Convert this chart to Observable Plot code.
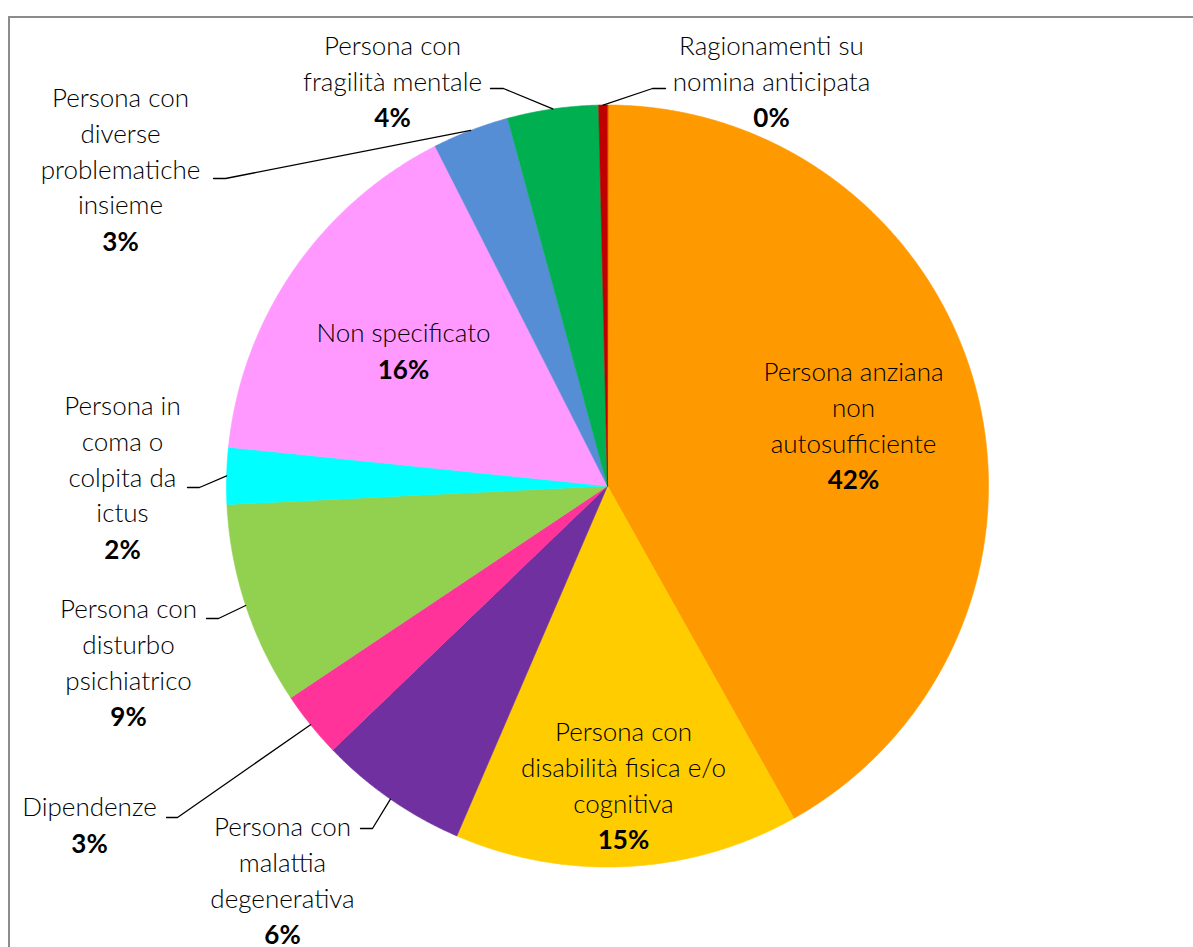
<!DOCTYPE html>
<html><head><meta charset="utf-8">
<script src="https://cdn.jsdelivr.net/npm/d3@7"></script>
<script src="https://cdn.jsdelivr.net/npm/@observablehq/plot@0.6"></script>
<style>
html,body{margin:0;padding:0;background:#fff;overflow:hidden;width:1193px;height:947px}
#frame{position:absolute;left:8px;top:16px;width:1400px;height:1200px;border:2px solid #8c8c8c;box-sizing:border-box}
#chart{position:absolute;left:0;top:0}
</style></head><body><div id="frame"></div><div id="chart"></div>
<script>
// ---- data ----
const categories = [
  "Persona anziana non autosufficiente",
  "Persona con disabilità fisica e/o cognitiva",
  "Persona con malattia degenerativa",
  "Dipendenze",
  "Persona con disturbo psichiatrico",
  "Persona in coma o colpita da ictus",
  "Non specificato",
  "Persona con diverse problematiche insieme",
  "Persona con fragilità mentale",
  "Ragionamenti su nomina anticipata"
];
const values = [41.86, 14.6, 6.35, 2.8, 8.6, 2.4, 15.9, 3.25, 3.85, 0.37];
const labelLines = [
  ["Persona anziana", "non", "autosufficiente"],
  ["Persona con", "disabilità fisica e/o", "cognitiva"],
  ["Persona con", "malattia", "degenerativa"],
  ["Dipendenze"],
  ["Persona con", "disturbo", "psichiatrico"],
  ["Persona in", "coma o", "colpita da", "ictus"],
  ["Non specificato"],
  ["Persona con", "diverse", "problematiche", "insieme"],
  ["Persona con", "fragilità mentale"],
  ["Ragionamenti su", "nomina anticipata"]
];
const colors = ["#FF9900", "#FFCC00", "#7030A0", "#FF3399", "#92D050", "#00FFFF", "#FF99FF", "#558ED5", "#00B050", "#C00000"];

// ---- layout (pixels) ----
const W = 1193, H = 947, CX = 607, CY = 485.5, R = 381, LINE = 35.8, FS = 26, NAME_SHIFT = -4;
// first-line centre of each label, optional leader elbow and stub length
const labelLayout = [
  {x: 853, y: 373},
  {x: 623, y: 733},
  {x: 282, y: 828, elbow: [372, 828], stub: -12},
  {x: 89,  y: 808, elbow: [177, 817], stub: -11},
  {x: 128, y: 610, elbow: [218, 618], stub: -12},
  {x: 122, y: 407, elbow: [199, 487], stub: -12},
  {x: 403, y: 334},
  {x: 120, y: 99,  elbow: [225, 178], stub: -12},
  {x: 392, y: 47,  elbow: [503, 88],  stub: -13},
  {x: 771, y: 47,  elbow: [652, 88],  stub: 13}
];
const ux = px => (px - CX) / R;
const uy = py => (py - CY) / R;

// ---- geometry from data ----
const total = d3.sum(values);
const slices = [];
let acc = 0;
values.forEach((v, i) => {
  const a0 = acc / total * 2 * Math.PI;
  acc += v;
  const a1 = acc / total * 2 * Math.PI;
  slices.push({cat: categories[i], a0, a1, v});
});
const polys = [];
slices.forEach(s => {
  polys.push({cat: s.cat, x: 0, y: 0});
  const n = Math.max(2, Math.ceil((s.a1 - s.a0) / 0.005));
  for (let k = 0; k <= n; k++) {
    const t = s.a0 + (s.a1 - s.a0) * k / n;
    polys.push({cat: s.cat, x: Math.sin(t), y: -Math.cos(t)});
  }
});
const leaders = [];
const names = [], pcts = [];
slices.forEach((s, i) => {
  const L = labelLayout[i];
  const lines = labelLines[i];
  names.push({x: ux(L.x), y: uy(L.y + NAME_SHIFT + (lines.length - 1) * LINE / 2), text: lines.join("\n")});
  pcts.push({x: ux(L.x), y: uy(L.y + lines.length * LINE), text: Math.round(s.v / total * 100) + "%"});
  if (L.elbow) {
    const m = (s.a0 + s.a1) / 2;
    leaders.push({cat: s.cat, x: Math.sin(m), y: -Math.cos(m)});
    leaders.push({cat: s.cat, x: ux(L.elbow[0]), y: uy(L.elbow[1])});
    leaders.push({cat: s.cat, x: ux(L.elbow[0] + L.stub), y: uy(L.elbow[1])});
  }
});

const chart = Plot.plot({
  width: W, height: H, margin: 0,
  style: {fontFamily: "Lato, 'Open Sans', sans-serif", background: "transparent"},
  x: {domain: [ux(0), ux(W)], range: [0, W], axis: null},
  y: {domain: [uy(0), uy(H)], range: [0, H], axis: null},
  color: {domain: categories, range: colors},
  marks: [
    Plot.line(polys, {x: "x", y: "y", z: "cat", fill: "cat", stroke: "cat", strokeWidth: 0.6, curve: "linear-closed"}),
    Plot.line(leaders, {x: "x", y: "y", z: "cat", stroke: "black", strokeWidth: 1.3}),
    Plot.text(names, {x: "x", y: "y", text: "text", fontSize: FS, fontWeight: 300, lineHeight: LINE / FS, fill: "black", textAnchor: "middle", lineAnchor: "middle"}),
    Plot.text(pcts, {x: "x", y: "y", text: "text", fontSize: FS, fontWeight: "bold", fill: "black", textAnchor: "middle", lineAnchor: "middle"})
  ]
});
document.getElementById("chart").appendChild(chart);
</script></body></html>
